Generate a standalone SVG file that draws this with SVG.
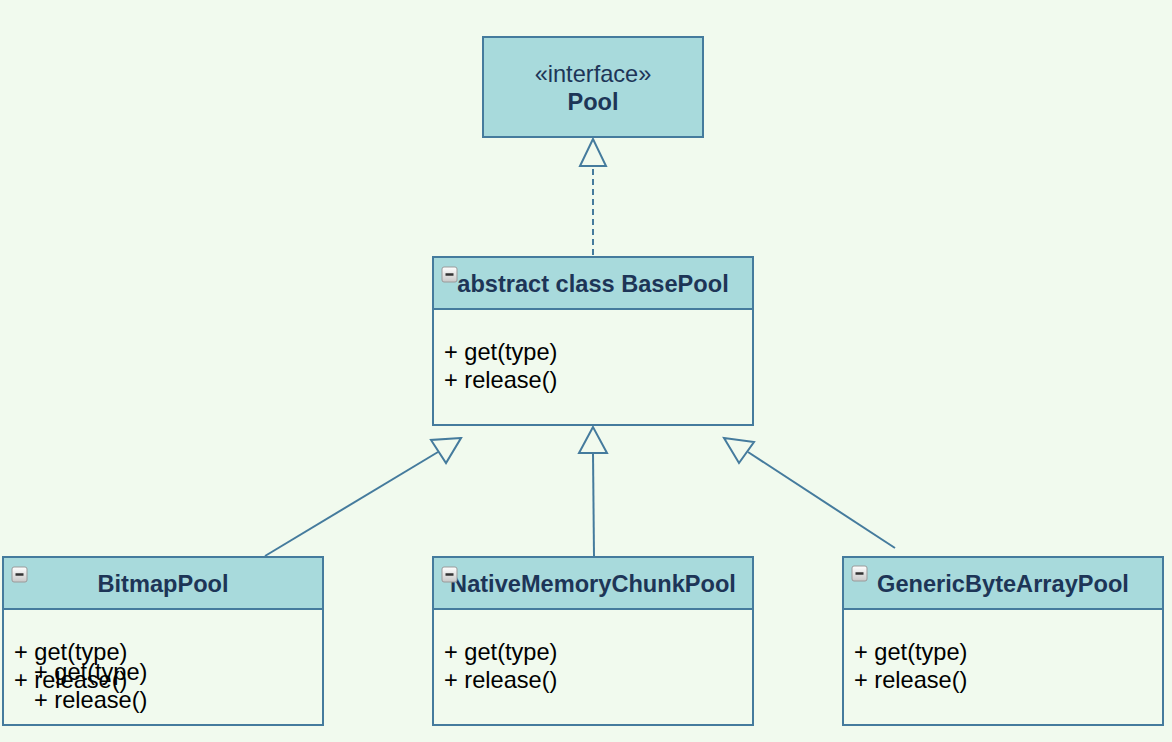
<svg xmlns="http://www.w3.org/2000/svg" width="1172" height="742" viewBox="0 0 1172 742">
<defs>
<style>
.hdr{fill:#a8dadc;stroke:#457b9d;stroke-width:2}
.body{fill:#f1faee;stroke:#457b9d;stroke-width:2}
.title{font-family:"Liberation Sans",Arial,sans-serif;font-size:23.6px;font-weight:bold;fill:#1d3557;text-anchor:middle}
.stereo{font-family:"Liberation Sans",Arial,sans-serif;font-size:23.6px;fill:#1d3557;text-anchor:middle}
.m{font-family:"Liberation Sans",Arial,sans-serif;font-size:23.6px;fill:#000}
.edge{fill:none;stroke:#457b9d;stroke-width:2}
.tri{fill:#f1faee;stroke:#457b9d;stroke-width:2;stroke-linejoin:miter}
.ic{fill:url(#icg);stroke:#9a9a9a;stroke-width:1}
.icm{stroke:#333;stroke-width:2.5}
</style>
<linearGradient id="icg" x1="0" y1="0" x2="0" y2="1">
<stop offset="0" stop-color="#ffffff"/>
<stop offset="1" stop-color="#c8c8c8"/>
</linearGradient>
<g id="icon">
<rect class="ic" x="0" y="0" width="15" height="15" rx="2"/>
<line class="icm" x1="3.5" y1="7.5" x2="11.5" y2="7.5"/>
</g>
</defs>
<rect x="0" y="0" width="1172" height="742" fill="#f1faee"/>

<g id="connectors">
<line class="edge" x1="593" y1="255" x2="593" y2="166" stroke-dasharray="6,4"/>
<polygon class="tri" points="593,139 580,166 606,166"/>
<line class="edge" x1="265" y1="556" x2="438" y2="452"/>
<polygon class="tri" points="461,438 431,440 446,463"/>
<line class="edge" x1="594" y1="556" x2="593" y2="453"/>
<polygon class="tri" points="593,427 579,453 607,453"/>
<line class="edge" x1="895" y1="548" x2="748" y2="452"/>
<polygon class="tri" points="724,438 754,442 739,463"/>
</g>

<g id="Pool">
<rect class="hdr" x="483" y="37" width="220" height="100"/>
<text class="stereo" x="593" y="82">«interface»</text>
<text class="title" x="593" y="110">Pool</text>
</g>

<g id="BasePool">
<rect class="body" x="433" y="257" width="320" height="168"/>
<rect class="hdr" x="433" y="257" width="320" height="52"/>
<use href="#icon" x="442" y="267"/>
<text class="title" x="593" y="292">abstract class BasePool</text>
<text class="m" x="444" y="360">+ get(type)</text>
<text class="m" x="444" y="388">+ release()</text>
</g>

<g id="BitmapPool">
<rect class="body" x="3" y="557" width="320" height="168"/>
<rect class="hdr" x="3" y="557" width="320" height="52"/>
<use href="#icon" x="12" y="567"/>
<text class="title" x="163" y="592">BitmapPool</text>
<text class="m" x="14" y="660">+ get(type)</text>
<text class="m" x="14" y="688">+ release()</text>
<text class="m" x="34" y="680">+ get(type)</text>
<text class="m" x="34" y="708">+ release()</text>
</g>

<g id="NativeMemoryChunkPool">
<rect class="body" x="433" y="557" width="320" height="168"/>
<rect class="hdr" x="433" y="557" width="320" height="52"/>
<text class="title" x="593" y="592">NativeMemoryChunkPool</text>
<use href="#icon" x="442" y="567"/>
<text class="m" x="444" y="660">+ get(type)</text>
<text class="m" x="444" y="688">+ release()</text>
</g>

<g id="GenericByteArrayPool">
<rect class="body" x="843" y="557" width="320" height="168"/>
<rect class="hdr" x="843" y="557" width="320" height="52"/>
<use href="#icon" x="852" y="566"/>
<text class="title" x="1003" y="592">GenericByteArrayPool</text>
<text class="m" x="854" y="660">+ get(type)</text>
<text class="m" x="854" y="688">+ release()</text>
</g>
</svg>
